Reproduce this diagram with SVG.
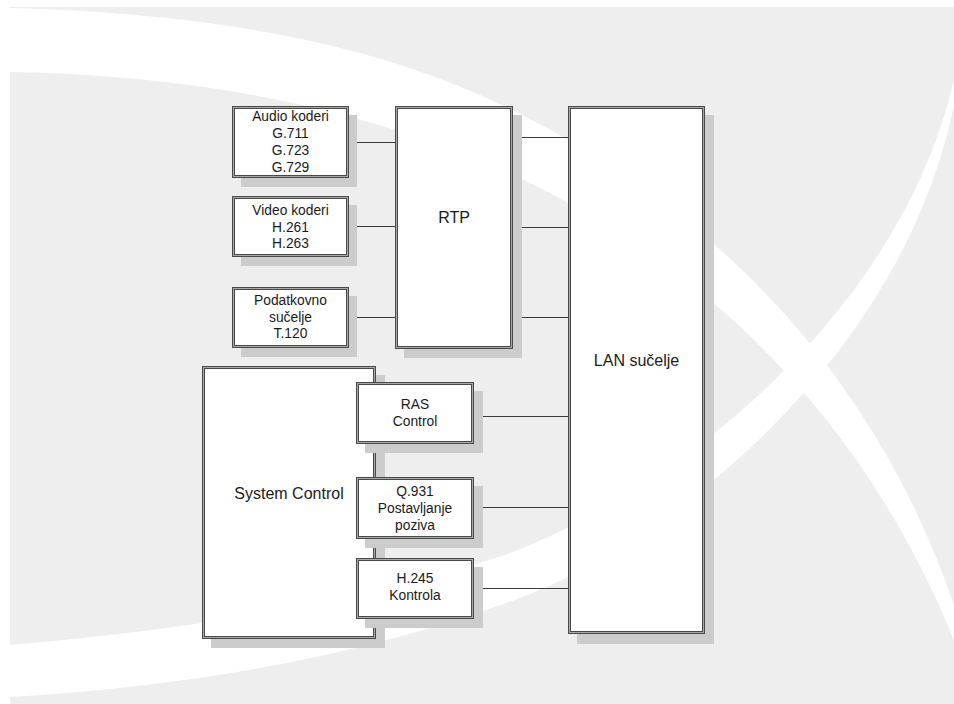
<svg xmlns="http://www.w3.org/2000/svg" width="954" height="704" viewBox="0 0 954 704">
<style>
.shadow{fill:#cccccc;stroke:none}
.box{fill:#ffffff;stroke:#4a4a4a;stroke-width:3}
.inner{fill:none;stroke:#a8a8a8;stroke-width:1}
.conn{fill:none;stroke:#3a3a3a;stroke-width:1}
.t{font-family:"Liberation Sans",Arial,sans-serif;font-size:13.8px;fill:#1a1a1a;text-anchor:middle}
.tl{font-family:"Liberation Sans",Arial,sans-serif;font-size:16px;fill:#1a1a1a;text-anchor:middle}
</style>
<g id="background">
<rect x="0" y="0" width="954" height="704" fill="#ffffff"/>
<rect x="10" y="7" width="944" height="697" fill="#eeeeee"/>
<path d="M10,8 Q300,15 480,95 C660,175 860,330 954,605 L954,640 C840,360 630,214 440,145 Q250,76 10,72 Z" fill="#ffffff"/>
<path d="M10,645 Q300,620 490,560 C620,519 890,350 954,80 L954,105 C900,370 652,549 520,598 Q300,680 10,697 Z" fill="#ffffff"/>
</g>
<g id="connectors">
<path class="conn" d="M349,144 Q351,142.5 354,142.5 L395,142.5"/>
<path class="conn" d="M349,226.5 L395,226.5"/>
<path class="conn" d="M349,317.5 L395,317.5"/>
<path class="conn" d="M513,137.5 L568,137.5"/>
<path class="conn" d="M513,227.5 L568,227.5"/>
<path class="conn" d="M513,317.5 L568,317.5"/>
<path class="conn" d="M474,410 Q477,410 478,413 Q479,416.5 483,416.5 L568,416.5"/>
<path class="conn" d="M474,507.5 L568,507.5"/>
<path class="conn" d="M474,588.5 L568,588.5"/>
</g>
<g id="audio">
<rect class="shadow" x="241" y="115" width="116" height="72"/>
<rect class="box" x="233.5" y="107.5" width="114" height="69"/>
<rect class="inner" x="233.5" y="107.5" width="114" height="69"/>
<text class="t" x="290.5" y="121">Audio koderi</text>
<text class="t" x="290.5" y="138">G.711</text>
<text class="t" x="290.5" y="155">G.723</text>
<text class="t" x="290.5" y="171.5">G.729</text>
</g>
<g id="video">
<rect class="shadow" x="241" y="205" width="116" height="61"/>
<rect class="box" x="233.5" y="197.5" width="114" height="58"/>
<rect class="inner" x="233.5" y="197.5" width="114" height="58"/>
<text class="t" x="290.5" y="215">Video koderi</text>
<text class="t" x="290.5" y="231.5">H.261</text>
<text class="t" x="290.5" y="248">H.263</text>
</g>
<g id="podatkovno">
<rect class="shadow" x="241" y="296" width="116" height="61"/>
<rect class="box" x="233.5" y="288.5" width="114" height="58"/>
<rect class="inner" x="233.5" y="288.5" width="114" height="58"/>
<text class="t" x="290.5" y="305">Podatkovno</text>
<text class="t" x="290.5" y="321.5">sučelje</text>
<text class="t" x="290.5" y="338">T.120</text>
</g>
<g id="rtp">
<rect class="shadow" x="404" y="115" width="118" height="243"/>
<rect class="box" x="396.5" y="107.5" width="115" height="240"/>
<rect class="inner" x="396.5" y="107.5" width="115" height="240"/>
<text class="tl" x="454" y="223">RTP</text>
</g>
<g id="lan">
<rect class="shadow" x="577" y="115" width="137" height="529"/>
<rect class="box" x="569.5" y="107.5" width="134" height="525"/>
<rect class="inner" x="569.5" y="107.5" width="134" height="525"/>
<text class="tl" x="636.5" y="366">LAN sučelje</text>
</g>
<g id="system-control">
<rect class="shadow" x="211" y="375" width="174" height="273"/>
<rect class="box" x="203.5" y="367.5" width="171" height="270"/>
<rect class="inner" x="203.5" y="367.5" width="171" height="270"/>
<text class="tl" x="289" y="498.5">System Control</text>
</g>
<g id="ras">
<rect class="shadow" x="365" y="391" width="118" height="62"/>
<rect class="box" x="357.5" y="383.5" width="115" height="59"/>
<rect class="inner" x="357.5" y="383.5" width="115" height="59"/>
<text class="t" x="415" y="408.5">RAS</text>
<text class="t" x="415" y="426">Control</text>
</g>
<g id="q931">
<rect class="shadow" x="365" y="486" width="118" height="62"/>
<rect class="box" x="357.5" y="478.5" width="115" height="59"/>
<rect class="inner" x="357.5" y="478.5" width="115" height="59"/>
<text class="t" x="415" y="496">Q.931</text>
<text class="t" x="415" y="513">Postavljanje</text>
<text class="t" x="415" y="530">poziva</text>
</g>
<g id="h245">
<rect class="shadow" x="365" y="567" width="118" height="61"/>
<rect class="box" x="357.5" y="559.5" width="115" height="58"/>
<rect class="inner" x="357.5" y="559.5" width="115" height="58"/>
<text class="t" x="415" y="582.5">H.245</text>
<text class="t" x="415" y="600">Kontrola</text>
</g>
</svg>
